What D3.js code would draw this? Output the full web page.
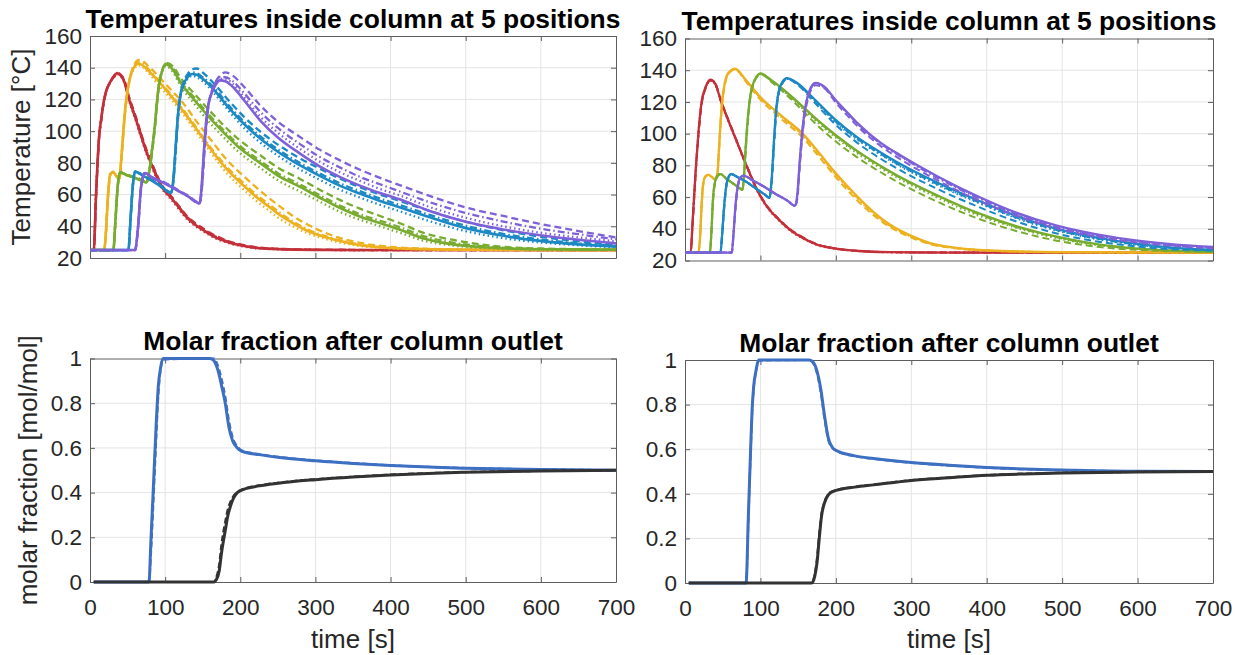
<!DOCTYPE html>
<html><head><meta charset="utf-8">
<script src="https://cdn.jsdelivr.net/npm/d3@7"></script>
<style>body{margin:0;background:#fff}</style>
</head><body>
<svg id="chart" width="1243" height="655"></svg>
<script>
// ---------------- data ----------------
const xTicks = [0,100,200,300,400,500,600,700];
const tempTicks = [20,40,60,80,100,120,140,160];
const fracTicks = [0,0.2,0.4,0.6,0.8,1];
const tempTitle = "Temperatures inside column at 5 positions";
const fracTitle = "Molar fraction after column outlet";
const tempLabel = "Temperature [°C]";
const fracLabel = "molar fraction [mol/mol]";
const timeLabel = "time [s]";
const posColors = ["#C4303A","#EDB120","#77AC30","#1C88C4","#7E60D8"];
const fracColors = ["#3D6FC2","#333333"];

// ---- left temperature panel ----
const tL1 = [0,5,8,10,12,15,18,22,27,32,36,40,45,52,60,68,75,81,88,94,100,107,118,130,140,151,165,182,200,222,250,300,400,700];
const L1_solid = [25,25,60,80,96,108,118,126,131,134.5,136.5,135.5,132,120,109,97,87,80,72,66,62,58.5,52,45,41,37.5,33.5,30.3,28,26.3,25.6,25.1,25,25];
const L1_dash = [25,25,58,78,95,107,117,125.5,131,135,137,136,133,121.5,110.5,98.5,88.5,81.5,73.5,67.5,63,59.5,53,46,42,38.5,34.5,31,28.6,26.7,25.8,25.2,25,25];
const L1_dot = [25,25,60,80,96,108,118,126,131,134,136,135,131.5,119.5,108,96,86,79,71,65,61,57.5,51,44,40.2,36.8,32.8,29.8,27.6,26.1,25.5,25.1,25,25];
const L1_dashdot = [25,25,59,79,95.5,107.5,117.5,126,131,134.8,136.8,135.8,132.5,120.8,109.8,97.8,87.8,80.8,72.8,66.8,62.5,59,52.5,45.5,41.5,38,34,30.6,28.3,26.5,25.7,25.1,25,25];

const tL2 = [0,19,21,24,27,31,36,39,42,45,48,52,57,65,80,93,110,125,142,160,182,206,220,235,250,270,290,310,330,360,400,450,500,700];
const L2_solid = [25,25,35,60,73,74,71,70,85,104,119,131,139,142.5,137,130.5,121,112,101,89,76,65,59,53.5,48,42,37,33.5,31,28,26.3,25.5,25.2,25];
const L2_dash = [25,25,34,58,72,74.5,71.5,70,83,102,118,130.5,140,145,140,133.5,125,117,106,95,82,71,65,59,53.5,46.5,41,36.5,33,29.5,27,25.8,25.3,25];
const L2_dot = [25,25,35,60,73,74,71,70,85,104,119,130.5,138,141.5,135.5,128,119,110,99,87,73.5,62.5,56.5,51,45.5,40,35.5,32.5,30,27.5,26,25.4,25.1,25];
const L2_dashdot = [25,25,35,59,73,74,71,70,84.5,103.5,118.5,131,139.5,143.5,138,131,122,113,102,90,77.5,66.5,60.5,55,49.5,43,38,34.3,31.5,28.5,26.5,25.6,25.2,25];

const tL3 = [0,31,34,37,40,50,60,72,75,79,83,86,89,92,96,101,110,120,140,160,175,200,226,250,279,310,333,360,386,412,443,488,530,600,700];
const L3_solid = [25,25,45,66,74,72,70.5,68,67.5,75,90,102,118,130,138,142,139,131,119,108,100.5,89,80,72,65,57,51.5,46,42,38,32.5,28.3,26.6,25.5,25.2];
const L3_dash = [25,25,44,65,74,72.5,71,68.5,67.5,74,88,100,116,129,138,143,141,134,123,112.5,105,94,85,77,70,62,56.5,51,46.5,42,36,31,28,26,25.4];
const L3_dot = [25,25,45,66,74,72,70.5,68,67.5,75,90,102,118,130,137.5,141,137.5,129,116.5,105,97.5,86,77,69,62,54.5,49,44,40,36,31,27.6,26.2,25.4,25.1];
const L3_dashdot = [25,25,45,66,74,72,70.5,68,67.5,75,90,102,118,130,138,142.5,140,132,120.5,109.5,102,90.5,81.5,73.5,66.5,58.5,53,47.5,43.5,39.5,34,29.3,27.2,25.7,25.3];

const tL4 = [0,51,54,57,60,70,80,95,108,111,114,117,120,124,130,136,142,150,165,186,205,226,250,279,305,333,360,386,412,450,499,550,599,650,700];
const L4_solid = [25,25,45,66,74.5,72,69.5,65,61,70,90,110,122,129,134,136,135.5,133,126,114,104.5,95.5,87,78.5,72,65.5,60.5,56,52,46,39,34,30.8,28.6,27.2];
const L4_dash = [25,25,44,65,74.5,72.5,70,65.5,61.5,68,86,107,121,130,136,139,139.5,137,130,118.5,109,100,91.5,83,76.5,70,64.5,60,56,50,43,37.5,33.5,30.5,28.5];
const L4_dot = [25,25,45,66,74.5,72,69.5,65,61,70,90,110,122,128.5,133,135,134,131.5,124,112,102,93,84.5,76,69.5,63,58,53.5,49.5,43.5,37,32.5,29.8,28,26.8];
const L4_dashdot = [25,25,45,66,74.5,72,69.5,65,61,70,90,110,122,129.5,135,137,136.5,134,127.5,115.5,106,97,88.5,80,73.5,67,62,57.5,53.5,47.5,40.5,35.2,31.8,29.3,27.7];

const tL5 = [0,60,64,68,73,85,100,115,130,146,149,152,155,158,162,167,173,180,190,205,226,250,279,305,333,360,386,412,450,499,550,599,650,700];
const L5_solid = [25,25,40,65,73.5,70,67,63,59,54.5,68,90,108,118,124,129,132,131.5,128,119.5,107,96,86,78,71,65.5,61,57,50,43,38,34.4,31.5,29.2];
const L5_dash = [25,25,39,63,73.5,70.5,67.5,63.5,59.5,55,64,84,104,117,125,131,135,137,135,128,116.5,106,96.5,88.5,81.5,75.5,70.5,66,59.5,52,46.5,41.5,37,33];
const L5_dot = [25,25,40,65,73.5,70,67,63,59,54.5,68,90,108,118,124.5,130,133,133,130,121.5,109.5,99,89,81,74,68.5,63.5,59.5,52.5,45.5,40,36,33,30.5];
const L5_dashdot = [25,25,40,65,73.5,70,67,63,59,54.5,66,88,106,117.5,124.5,130.5,134,134,131.5,124,112.5,102,92,84,77,71,66.5,62,55.5,48.5,43,38.5,35,31.8];

// ---- right temperature panel ----
const tR1 = [0,7.5,10,12,14.6,17.7,22,27,34,40,48,56,64,72,80,88,95,108,126,140,155,175,200,230,270,350,700];
const R1_solid = [25,25,44,60,80,100,120,129,134,131.5,120,110,100.5,91,81.5,72.5,65,54.5,45,39,34.5,30,27.5,26,25.3,25,25];
const R1_dash = [25,25,42,58,78,98,118,128,133.5,131.5,120.5,110.5,101,91.5,82,73,65.5,55,45.5,39.5,35,30.3,27.6,26,25.3,25,25];
const R1_dot = [25,25,44,60,80,100,120,129,133.5,131,119.5,109.5,100,90.5,81,72,64.5,54,44.5,38.6,34.1,29.7,27.3,25.9,25.2,25,25];
const R1_dashdot = [25,25,43,59,79,99,119,128.5,134,131.8,120.3,110.3,100.8,91.3,81.8,72.8,65.3,54.8,45.3,39.3,34.8,30.2,27.6,26,25.3,25,25];

const tR2 = [0,17.7,20,22,24,27,31,36,40,43,45,47,49,52,55,60,66,82,99,126,156,175,200,225,250,272,300,325,360,420,500,700];
const R2_solid = [25,25,35,55,68,73,74,72.5,71,75,90,106,119,130,136,139.5,141,133,123.5,112,100,89.5,75,62,50.5,42.5,35.5,31,28,26,25.3,25];
const R2_dash = [25,25,34,53,67,72.5,74,72.5,71,74,88,104,117,128.5,135,139,140.5,132,122,110,97.5,87,72.5,59.5,48.5,41,34.5,30.3,27.6,25.9,25.2,25];
const R2_dot = [25,25,35,55,68,73,74,72.5,71,75,90,106,119,130,136,139,140.5,132.5,123,111,99,88.5,74,61,49.5,41.8,35,30.7,27.8,25.9,25.2,25];
const R2_dashdot = [25,25,35,55,68,73,74,72.5,71,75,90,106,119,130,136,139.3,140.8,132.8,123.2,111.5,99.3,88.8,74.3,61.3,50,42,35.2,30.8,27.9,26,25.3,25];

const tR3 = [0,33,35,37,40,44,47,55,64,73,76,78,80,83,86,90,95,100,115,140,177,200,230,260,282,335,388,440,493,550,600,650,700];
const R3_solid = [25,25,38,58,70,74,74.5,71.5,68.5,65.5,64.5,72,88,108,122,131,136,138,133.5,124,108,99,88.5,79.5,73.5,61,50,41.5,35,30,27.5,26.2,25.6];
const R3_dash = [25,25,37,56,69,73.5,74.5,71.5,68.5,65.5,64.5,70,85,105,120,130,135.5,137.5,132.5,122,104.5,95,84.5,75.5,69.5,57,46.5,38.5,32.5,28.5,26.7,25.8,25.4];
const R3_dot = [25,25,38,58,70,74,74.5,71.5,68.5,65.5,64.5,72,88,108,122,131,136,137.5,133,123,106.5,97.5,87,78,72,59.5,48.5,40.5,34,29.5,27.2,26,25.5];
const R3_dashdot = [25,25,38,58,70,74,74.5,71.5,68.5,65.5,64.5,72,88,108,122,131,136,137.8,133.2,123.5,107.5,98.5,88,79,73,60.5,49.5,41,34.6,29.8,27.4,26.1,25.6];

const tR4 = [0,47,49,52,55,58,61,70,80,95,106,112,115,118,121,124,129,135,150,170,200,229,260,285,335,388,440,493,546,600,651,700];
const R4_solid = [25,25,35,55,68,73,74.5,72.5,70,65,61.5,59.5,72,96,116,126,132.5,135,131.5,122.5,108.5,97.5,88,81,69,58,48,40,34.5,30.5,28,26.8];
const R4_dash = [25,25,34,53,67,72.5,74.5,72.5,70,65,61.5,59.5,69,92,113,124.5,131.5,134.5,130.5,120.5,105.5,94,84,77,65,54,44.5,37,32,28.8,27,26.2];
const R4_dot = [25,25,35,55,68,73,74.5,72.5,70,65,61.5,59.5,72,96,116,126,132,134.5,131,121.5,107,96,86.5,79.5,67.5,56.5,46.5,38.8,33.5,29.8,27.5,26.5];
const R4_dashdot = [25,25,35,55,68,73,74.5,72.5,70,65,61.5,59.5,71,95,115,125.5,132,134.8,131.2,122,107.5,96.5,87,80,68,57,47,39.2,33.8,30,27.7,26.6];

const tR5 = [0,62,64,67,70,73,77,90,105,120,135,146,149,152,156,160,165,173,185,200,215,229,260,285,335,388,440,493,546,600,651,700];
const R5_solid = [25,25,35,55,67,72,73.5,70.5,66.5,62,58,54.5,62,82,104,118,127,132,129.5,121,113.5,106.5,94,86.5,73,60.5,50,42,36.5,32.5,30,28.5];
const R5_dash = [25,25,34,53,66,71.5,73.5,70.5,66.5,62,58,54.5,59,78,100,115,125,130.5,128.5,119.5,111.5,104.5,92,84,70.5,58,48,40.2,35,31.3,29,27.7];
const R5_dot = [25,25,35,55,67,72,73.5,70.5,66.5,62,58,54.5,62,82,104,118,126.5,131.5,129,120.5,113,106,93.5,86,72.5,60,49.5,41.5,36,32.2,29.8,28.3];
const R5_dashdot = [25,25,35,55,67,72,73.5,70.5,66.5,62,58,54.5,61,81,103,117.5,126.5,131.8,129.3,120.8,113.2,106,93.5,85.8,72,59.5,49,41,35.6,31.9,29.5,28];

// ---- molar fraction panels ----
const tBLblue = [5,78.5,81,84,88,91,94,97,150,160,165,170,175,180,185,190,196,202,225,250,300,350,400,450,500,600,700];
const BL_blue = [0,0,0.18,0.4,0.7,0.88,0.96,1,1,1,0.99,0.95,0.88,0.8,0.69,0.63,0.6,0.585,0.57,0.558,0.542,0.53,0.521,0.514,0.509,0.503,0.5];
const BL_blue2 = [0,0,0.12,0.33,0.63,0.84,0.95,0.995,1,1,1,0.97,0.91,0.83,0.72,0.645,0.607,0.588,0.572,0.56,0.544,0.532,0.522,0.515,0.51,0.504,0.5];
const tBLblack = [5,165,168,172,175,180,183,187,191,196,201,225,250,300,350,400,450,500,600,700];
const BL_black = [0,0,0.01,0.05,0.13,0.23,0.29,0.34,0.375,0.4,0.41,0.43,0.442,0.458,0.47,0.479,0.486,0.491,0.497,0.5];
const BL_black2 = [0,0,0.02,0.08,0.17,0.27,0.32,0.36,0.385,0.403,0.412,0.432,0.444,0.46,0.471,0.48,0.487,0.492,0.497,0.5];

const tBRblue = [5,81,84,87,89,91,94,98,160,165,170,175,180,185,190,195,200,225,250,300,350,400,450,500,600,700];
const BR_blue = [0,0,0.3,0.6,0.78,0.88,0.95,1,1,1,0.99,0.95,0.87,0.75,0.65,0.61,0.595,0.57,0.558,0.54,0.528,0.518,0.511,0.507,0.501,0.5];
const BR_blue2 = [0,0,0.28,0.58,0.76,0.87,0.945,0.998,1,1,0.985,0.94,0.855,0.735,0.64,0.607,0.593,0.569,0.557,0.539,0.527,0.517,0.51,0.506,0.501,0.5];
const tBRblack = [5,168,172,175,178,181,185,190,196,225,250,300,350,400,450,500,600,700];
const BR_black = [0,0,0.03,0.09,0.2,0.3,0.36,0.395,0.41,0.43,0.44,0.46,0.472,0.483,0.489,0.493,0.498,0.5];
const BR_black2 = [0,0,0.04,0.11,0.22,0.31,0.365,0.398,0.412,0.431,0.441,0.461,0.473,0.484,0.49,0.494,0.498,0.5];

// ---------------- drawing ----------------
const FONT = '"Liberation Sans", Arial, Helvetica, sans-serif';
const dashes = {solid: null, dash: "7,4", dot: "1.5,3", dashdot: "7,3,1.5,3"};
const svg = d3.select("#chart");

function tempSeries(defs, w) {
  const out = [];
  defs.forEach((d, i) => {
    ["solid","dashdot","dot","dash"].forEach(k => {
      out.push({t: d.t, v: d[k], color: posColors[i], dash: dashes[k], width: k === "solid" ? w + 0.3 : w});
    });
  });
  return out;
}

const leftTemp = tempSeries([
  {t:tL1, solid:L1_solid, dash:L1_dash, dot:L1_dot, dashdot:L1_dashdot},
  {t:tL2, solid:L2_solid, dash:L2_dash, dot:L2_dot, dashdot:L2_dashdot},
  {t:tL3, solid:L3_solid, dash:L3_dash, dot:L3_dot, dashdot:L3_dashdot},
  {t:tL4, solid:L4_solid, dash:L4_dash, dot:L4_dot, dashdot:L4_dashdot},
  {t:tL5, solid:L5_solid, dash:L5_dash, dot:L5_dot, dashdot:L5_dashdot}
], 2.3);
const rightTemp = tempSeries([
  {t:tR1, solid:R1_solid, dash:R1_dash, dot:R1_dot, dashdot:R1_dashdot},
  {t:tR2, solid:R2_solid, dash:R2_dash, dot:R2_dot, dashdot:R2_dashdot},
  {t:tR3, solid:R3_solid, dash:R3_dash, dot:R3_dot, dashdot:R3_dashdot},
  {t:tR4, solid:R4_solid, dash:R4_dash, dot:R4_dot, dashdot:R4_dashdot},
  {t:tR5, solid:R5_solid, dash:R5_dash, dot:R5_dot, dashdot:R5_dashdot}
], 2);
const leftFrac = [
  {t:tBLblue, v:BL_blue, color:fracColors[0], dash:null, width:3},
  {t:tBLblue, v:BL_blue2, color:fracColors[0], dash:"6,3", width:2.2},
  {t:tBLblack, v:BL_black, color:fracColors[1], dash:null, width:3},
  {t:tBLblack, v:BL_black2, color:fracColors[1], dash:"6,3", width:2.2}
];
const rightFrac = [
  {t:tBRblue, v:BR_blue, color:fracColors[0], dash:null, width:3},
  {t:tBRblue, v:BR_blue2, color:fracColors[0], dash:"6,3", width:2.2},
  {t:tBRblack, v:BR_black, color:fracColors[1], dash:null, width:3},
  {t:tBRblack, v:BR_black2, color:fracColors[1], dash:"6,3", width:2.2}
];

let clipId = 0;
function drawPanel(p) {
  const g = svg.append("g");
  const x = d3.scaleLinear().domain([0, 700]).range([p.x0, p.x1]);
  const y = d3.scaleLinear().domain(p.yDom).range([p.y1, p.y0]);

  // grid
  g.append("g").selectAll("line").data(xTicks.slice(1, -1)).join("line")
    .attr("x1", d => x(d)).attr("x2", d => x(d)).attr("y1", p.y0).attr("y2", p.y1)
    .attr("stroke", "#e4e4e4").attr("stroke-width", 1);
  g.append("g").selectAll("line").data(p.yTicks.slice(1, -1)).join("line")
    .attr("y1", d => y(d)).attr("y2", d => y(d)).attr("x1", p.x0).attr("x2", p.x1)
    .attr("stroke", "#e4e4e4").attr("stroke-width", 1);

  const style = sel => {
    sel.attr("font-family", FONT).attr("font-size", 22.5);
    sel.select(".domain").attr("stroke", "#5e5e5e").attr("stroke-width", 1);
    sel.selectAll(".tick line").attr("stroke", "#5e5e5e");
    sel.selectAll("text").attr("fill", "#262626");
  };
  const fmt = d3.format("~g");
  g.append("g").attr("transform", `translate(0,${p.y1})`)
    .call(d3.axisBottom(x).tickValues(xTicks).tickSizeInner(-5).tickSizeOuter(0).tickPadding(17)
      .tickFormat(p.xLabels ? fmt : () => "")).call(style);
  g.append("g").attr("transform", `translate(0,${p.y0})`)
    .call(d3.axisTop(x).tickValues(xTicks).tickSizeInner(-5).tickSizeOuter(0).tickFormat(() => "")).call(style);
  g.append("g").attr("transform", `translate(${p.x0},0)`)
    .call(d3.axisLeft(y).tickValues(p.yTicks).tickSizeInner(-5).tickSizeOuter(0).tickPadding(8).tickFormat(fmt)).call(style);
  g.append("g").attr("transform", `translate(${p.x1},0)`)
    .call(d3.axisRight(y).tickValues(p.yTicks).tickSizeInner(-5).tickSizeOuter(0).tickFormat(() => "")).call(style);

  // data
  const id = "clip" + (clipId++);
  svg.append("clipPath").attr("id", id).append("rect")
    .attr("x", p.x0).attr("y", p.y0 - 2).attr("width", p.x1 - p.x0).attr("height", p.y1 - p.y0 + 4);
  const line = d3.line().x(d => x(d[0])).y(d => y(d[1])).curve(d3.curveMonotoneX);
  g.append("g").attr("clip-path", `url(#${id})`).selectAll("path").data(p.series).join("path")
    .attr("d", s => line(d3.zip(s.t, s.v)))
    .attr("fill", "none").attr("stroke", s => s.color).attr("stroke-width", s => s.width)
    .attr("stroke-dasharray", s => s.dash).attr("stroke-linejoin", "round");

  // texts
  g.append("text").attr("x", (p.x0 + p.x1) / 2).attr("y", p.titleY).attr("text-anchor", "middle")
    .attr("font-family", FONT).attr("font-weight", "bold").attr("font-size", 26.4).attr("fill", "#000")
    .text(p.title);
  if (p.yLabel) {
    g.append("text").attr("transform", `translate(${p.yLabelX},${(p.y0 + p.y1) / 2}) rotate(-90)`)
      .attr("text-anchor", "middle").attr("font-family", FONT).attr("font-size", 26).attr("fill", "#262626")
      .text(p.yLabel);
  }
  if (p.xLabels) {
    g.append("text").attr("x", (p.x0 + p.x1) / 2).attr("y", 648).attr("text-anchor", "middle")
      .attr("font-family", FONT).attr("font-size", 26).attr("fill", "#262626").text(timeLabel);
  }
}

drawPanel({x0:90, x1:616, y0:36, y1:258, yDom:[20,160], yTicks:tempTicks, xLabels:false,
  title:tempTitle, titleY:28, yLabel:tempLabel, yLabelX:29.5, series:leftTemp});
drawPanel({x0:685, x1:1213, y0:38.5, y1:260.5, yDom:[20,160], yTicks:tempTicks, xLabels:false,
  title:tempTitle, titleY:30, yLabel:null, series:rightTemp});
drawPanel({x0:90, x1:616, y0:358.5, y1:582, yDom:[0,1], yTicks:fracTicks, xLabels:true,
  title:fracTitle, titleY:350, yLabel:fracLabel, yLabelX:37, series:leftFrac});
drawPanel({x0:685, x1:1213, y0:360, y1:583, yDom:[0,1], yTicks:fracTicks, xLabels:true,
  title:fracTitle, titleY:352, yLabel:null, series:rightFrac});
</script>
</body></html>
